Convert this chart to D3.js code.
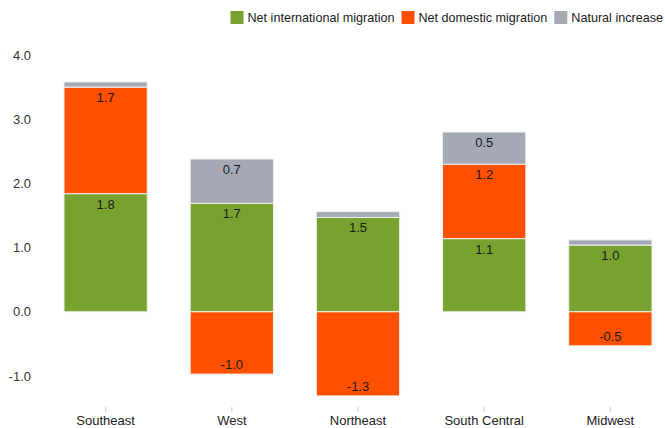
<!DOCTYPE html>
<html>
<head>
<meta charset="utf-8">
<script src="https://cdn.jsdelivr.net/npm/d3@7"></script>
<style>
  body { margin: 0; background: #fff; }
  svg { font-family: "Liberation Sans", Arial, Helvetica, sans-serif; }
</style>
</head>
<body>
<svg width="665" height="428"></svg>
<script>
var regions = ["Southeast", "West", "Northeast", "South Central", "Midwest"];
var seriesNames = ["Net international migration", "Net domestic migration", "Natural increase"];
var seriesKeys = ["intl", "domestic", "natural"];
var intlValues = [1.84, 1.69, 1.47, 1.14, 1.04];
var domesticValues = [1.66, -0.97, -1.31, 1.16, -0.53];
var naturalValues = [0.08, 0.69, 0.09, 0.50, 0.08];
var yTicks = [-1, 0, 1, 2, 3, 4];
var colors = ["#78a22f", "#fe5000", "#a4a9b4"];

var rows = regions.map(function(r, i) {
  return {region: r, intl: intlValues[i], domestic: domesticValues[i], natural: naturalValues[i]};
});

var svg = d3.select("svg");

var x = d3.scaleBand()
  .domain(regions)
  .range([64, 652])
  .paddingInner(0.34)
  .paddingOuter(0);

var y = d3.scaleLinear()
  .domain([-1, 4])
  .range([376, 55]);

var color = d3.scaleOrdinal().domain(seriesKeys).range(colors);

var stacked = d3.stack()
  .keys(seriesKeys)
  .offset(d3.stackOffsetDiverging)(rows);

// plain hyphen instead of d3's unicode minus
var fmt = function(v) { return d3.format(".1f")(v).replace("\u2212", "-"); };

// y axis labels only, no line
svg.append("g")
  .selectAll("text")
  .data(yTicks)
  .enter().append("text")
    .attr("x", 31)
    .attr("y", function(d) { return y(d); })
    .attr("dy", "0.35em")
    .attr("text-anchor", "end")
    .attr("font-size", 13)
    .attr("fill", "#333")
    .text(fmt);

// x axis
var xAxis = svg.append("g")
  .attr("transform", "translate(0,407)")
  .call(d3.axisBottom(x).tickSize(5).tickPadding(4));
xAxis.select(".domain").remove();
xAxis.selectAll(".tick line").attr("stroke", "#ccc");
xAxis.selectAll(".tick text")
  .attr("font-size", 13)
  .attr("font-family", "Liberation Sans, Arial, sans-serif")
  .attr("fill", "#222");

// bars
var layer = svg.append("g")
  .selectAll("g")
  .data(stacked)
  .enter().append("g")
    .attr("fill", function(d) { return color(d.key); });

layer.selectAll("rect")
  .data(function(d) { return d; })
  .enter().append("rect")
    .attr("x", function(d) { return x(d.data.region); })
    .attr("width", x.bandwidth())
    .attr("y", function(d) { return y(Math.max(d[0], d[1])); })
    .attr("height", function(d) { return Math.abs(y(d[0]) - y(d[1])); })
    .attr("stroke", "#f0f0f0")
    .attr("stroke-width", 1);

// value labels
stacked.forEach(function(s) {
  s.forEach(function(d) {
    var v = d.data[s.key];
    if (Math.abs(v) < 0.3) return;
    var ly = v > 0 ? y(d[1]) + 15 : y(d[0]) - 5;
    svg.append("text")
      .attr("x", x(d.data.region) + x.bandwidth() / 2)
      .attr("y", ly)
      .attr("text-anchor", "middle")
      .attr("font-size", 13)
      .attr("fill", "#1a1a1a")
      .text(fmt(v));
  });
});

// legend, laid out right to left so it ends at the right edge
var legend = svg.append("g")
  .selectAll("g")
  .data(seriesNames)
  .enter().append("g");

legend.append("rect")
  .attr("width", 13)
  .attr("height", 13)
  .attr("fill", function(d, i) { return colors[i]; });

legend.append("text")
  .attr("x", 17)
  .attr("y", 6.5)
  .attr("dy", "0.35em")
  .attr("font-size", 12.6)
  .attr("fill", "#222")
  .text(function(d) { return d; });

var right = 663;
var nodes = legend.nodes();
for (var i = nodes.length - 1; i >= 0; i--) {
  var w = 17 + d3.select(nodes[i]).select("text").node().getComputedTextLength();
  right -= w;
  d3.select(nodes[i]).attr("transform", "translate(" + right + ",11)");
  right -= 7;
}
</script>
</body>
</html>
